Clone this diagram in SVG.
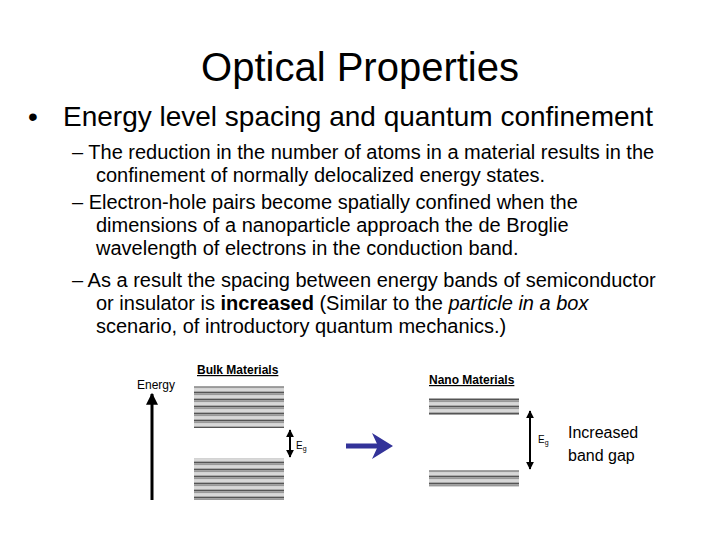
<svg xmlns="http://www.w3.org/2000/svg" width="720" height="540" viewBox="0 0 720 540">
<style>
text{font-family:"Liberation Sans",Arial,sans-serif;fill:#000}
.s{font-size:20px}
.l{font-size:12px;font-weight:bold;text-decoration:underline}
</style>
<defs>
<pattern id="pt" width="10" height="7" patternUnits="userSpaceOnUse">
<rect width="10" height="1.5" fill="#555"/><rect y="1.5" width="10" height="2" fill="#999"/><rect y="3.5" width="10" height="2.5" fill="#d8d8d8"/><rect y="6" width="10" height="1" fill="#aaa"/>
</pattern>
<marker id="ah" viewBox="0 0 10 10" refX="9" refY="5" markerWidth="4" markerHeight="4" orient="auto-start-reverse"><path d="M0,0L10,5L0,10z" fill="#000"/></marker>
</defs>
<text x="360" y="81" font-size="40" text-anchor="middle">Optical Properties</text>
<text x="28" y="126" font-size="28">•</text>
<text x="63" y="126" font-size="28">Energy level spacing and quantum confinement</text>
<g class="s">
<text x="72" y="159">– The reduction in the number of atoms in a material results in the</text>
<text x="96" y="182">confinement of normally delocalized energy states.</text>
<text x="72" y="209">– Electron-hole pairs become spatially confined when the</text>
<text x="96" y="232">dimensions of a nanoparticle approach the de Broglie</text>
<text x="96" y="255">wavelength of electrons in the conduction band.</text>
<text x="72" y="287">– As a result the spacing between energy bands of semiconductor</text>
<text x="96" y="310">or insulator is <tspan font-weight="bold">increased</tspan> (Similar to the <tspan font-style="italic">particle in a box</tspan></text>
<text x="96" y="333">scenario, of introductory quantum mechanics.)</text>
</g>
<g id="bulk">
<text x="197" y="374" class="l">Bulk Materials</text>
<rect x="194" y="386" width="90" height="42" fill="url(#pt)"/>
<rect x="194" y="458" width="90" height="42" fill="url(#pt)"/>
</g>
<g id="nano">
<text x="429" y="384" class="l">Nano Materials</text>
<rect x="429" y="398" width="90" height="17" fill="url(#pt)"/>
<rect x="429" y="470" width="90" height="17" fill="url(#pt)"/>
</g>
<text x="137" y="389" font-size="12">Energy</text>
<text x="296" y="449" font-size="10">E<tspan font-size="7" dy="2">g</tspan></text>
<text x="538" y="443" font-size="10">E<tspan font-size="7" dy="2">g</tspan></text>
<text x="568" y="438" font-size="16">Increased</text>
<text x="568" y="461" font-size="16">band gap</text>
<g id="connectors" stroke="#000" fill="none">
<line x1="152" y1="500" x2="152" y2="394" stroke-width="3" marker-end="url(#ah)"/>
<line x1="290" y1="430" x2="290" y2="457" stroke-width="2" marker-start="url(#ah)" marker-end="url(#ah)"/>
<line x1="530" y1="411" x2="530" y2="469" stroke-width="2" marker-start="url(#ah)" marker-end="url(#ah)"/>
<path d="M346,446H380" stroke="#333399" stroke-width="5"/>
<path d="M372,433L393,446L372,459L378,446z" fill="#333399" stroke="none"/>
</g>
</svg>
